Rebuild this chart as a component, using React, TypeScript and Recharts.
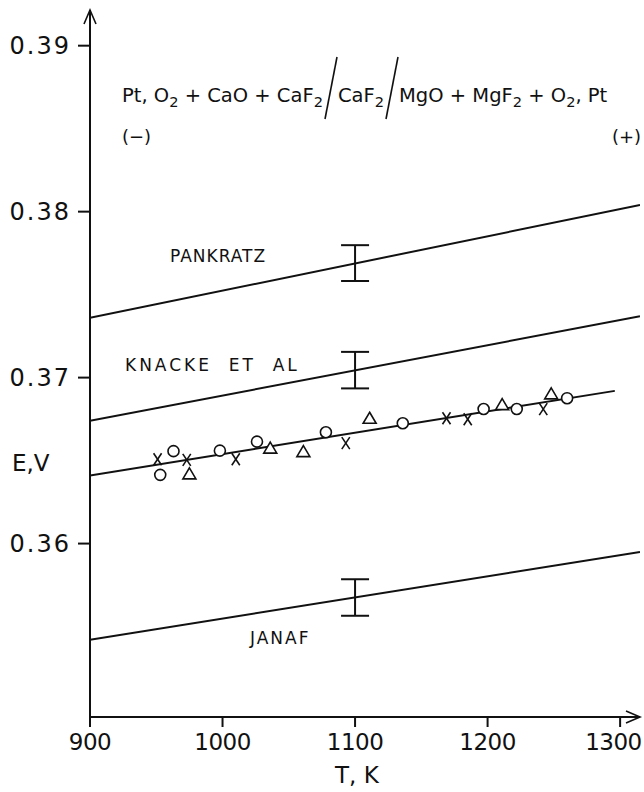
import React from 'react';
import {
  ComposedChart,
  Line,
  Scatter,
  ErrorBar,
  XAxis,
  YAxis,
  ReferenceDot,
} from 'recharts';

// axis ticks
const xTicks = [900, 1000, 1100, 1200, 1300];
const yTicks = [0.36, 0.37, 0.38, 0.39];

// literature lines (E in V vs T in K)
const pankratz = [
  { T: 900, E: 0.3736 },
  { T: 1315, E: 0.3804 },
];
const knacke = [
  { T: 900, E: 0.3674 },
  { T: 1315, E: 0.3737 },
];
const janaf = [
  { T: 900, E: 0.3542 },
  { T: 1315, E: 0.3595 },
];
// least squares line through measured points
const fit = [
  { T: 900, E: 0.3641 },
  { T: 1296, E: 0.3692 },
];

// uncertainty bars at 1100 K
const errBars = [
  { T: 1100, E: 0.3769, err: 0.00108 },
  { T: 1100, E: 0.37045, err: 0.0011 },
  { T: 1100, E: 0.35675, err: 0.0011 },
];

// measured points, three runs
const crosses = [
  { T: 951, E: 0.36508 },
  { T: 973, E: 0.36504 },
  { T: 1010, E: 0.36508 },
  { T: 1093, E: 0.36605 },
  { T: 1169, E: 0.36755 },
  { T: 1185, E: 0.36749 },
  { T: 1242, E: 0.3681 },
];
const circles = [
  { T: 953, E: 0.36414 },
  { T: 963, E: 0.36557 },
  { T: 998, E: 0.3656 },
  { T: 1026, E: 0.36614 },
  { T: 1078, E: 0.36671 },
  { T: 1136, E: 0.36725 },
  { T: 1197, E: 0.36811 },
  { T: 1222, E: 0.36811 },
  { T: 1260, E: 0.36876 },
];
const triangles = [
  { T: 975, E: 0.3642 },
  { T: 1036, E: 0.36575 },
  { T: 1061, E: 0.36554 },
  { T: 1111, E: 0.36755 },
  { T: 1211, E: 0.36837 },
  { T: 1248, E: 0.36902 },
];

const FONT = '"DejaVu Sans", sans-serif';
const INK = '#111';
const W = 644;

const CrossMark = (p: any) => (
  <g stroke={INK} strokeWidth={1.6}>
    <line x1={p.cx - 4} y1={p.cy - 6} x2={p.cx + 4} y2={p.cy + 6} />
    <line x1={p.cx + 4} y1={p.cy - 6} x2={p.cx - 4} y2={p.cy + 6} />
  </g>
);
const CircleMark = (p: any) => (
  <circle cx={p.cx} cy={p.cy} r={5.5} fill="#fff" stroke={INK} strokeWidth={1.6} />
);
const TriangleMark = (p: any) => (
  <path
    d={`M${p.cx},${p.cy - 6} L${p.cx + 6.5},${p.cy + 5} L${p.cx - 6.5},${p.cy + 5} Z`}
    fill="#fff"
    stroke={INK}
    strokeWidth={1.6}
  />
);
const UpArrow = (p: any) => (
  <path
    d={`M${p.cx - 6},${p.cy + 14} L${p.cx},${p.cy} L${p.cx + 6},${p.cy + 14}`}
    fill="none"
    stroke={INK}
    strokeWidth={1.6}
  />
);
const RightArrow = (p: any) => (
  <path
    d={`M${p.cx - 14},${p.cy - 6} L${p.cx},${p.cy} L${p.cx - 14},${p.cy + 6}`}
    fill="none"
    stroke={INK}
    strokeWidth={1.6}
  />
);

// x tick label, kept inside the picture's right edge
const XTick = (p: any) => {
  const label = String(p.payload.value);
  const half = (label.length * 0.6 * 23) / 2;
  const shift = Math.min(0, W - 3 - (p.x + half));
  return (
    <text
      x={p.x + shift}
      y={p.y}
      dy="0.71em"
      textAnchor="middle"
      fill={INK}
      fontSize={23}
      fontFamily={FONT}
      letterSpacing={-0.5}
    >
      {label}
    </text>
  );
};

const txt: React.CSSProperties = {
  position: 'absolute',
  fontFamily: FONT,
  color: INK,
  whiteSpace: 'nowrap',
  lineHeight: 1,
};
const sub: React.CSSProperties = { fontSize: '0.75em', lineHeight: 0, verticalAlign: '-0.35em' };

const Slash = () => (
  <span style={{ display: 'inline-block', width: 15, height: 0, position: 'relative' }}>
    <svg width={15} height={64} style={{ position: 'absolute', left: 0, top: -46, overflow: 'visible' }}>
      <line x1={14} y1={1} x2={2} y2={63} stroke={INK} strokeWidth={1.6} />
    </svg>
  </span>
);

export default function App() {
  return (
    <div style={{ position: 'absolute', left: 0, top: 0, width: W, height: 792, background: '#fff' }}>
      <ComposedChart
        width={W}
        height={792}
        margin={{ top: 10, right: 4, bottom: 30, left: 20 }}
      >
        <XAxis
          dataKey="T"
          type="number"
          domain={[900, 1315]}
          allowDataOverflow
          ticks={xTicks}
          height={45}
          tickSize={10}
          tickMargin={7}
          stroke={INK}
          strokeWidth={2}
          tick={XTick}
        />
        <YAxis
          type="number"
          domain={[0.34955, 0.39215]}
          allowDataOverflow
          ticks={yTicks}
          width={70}
          tickSize={12}
          tickMargin={7}
          tickFormatter={(v: number) => v.toFixed(2)}
          stroke={INK}
          strokeWidth={2}
          tick={{ fill: INK, fontSize: 24, fontFamily: FONT, letterSpacing: 2 }}
        />
        <Line data={pankratz} dataKey="E" stroke={INK} strokeWidth={2} dot={false} isAnimationActive={false} />
        <Line data={knacke} dataKey="E" stroke={INK} strokeWidth={2} dot={false} isAnimationActive={false} />
        <Line data={janaf} dataKey="E" stroke={INK} strokeWidth={2} dot={false} isAnimationActive={false} />
        <Line data={fit} dataKey="E" stroke={INK} strokeWidth={2} dot={false} isAnimationActive={false} />
        <Scatter data={errBars} dataKey="E" shape={() => <g />} isAnimationActive={false}>
          <ErrorBar dataKey="err" direction="y" width={14} stroke={INK} strokeWidth={2} isAnimationActive={false} />
        </Scatter>
        <Scatter data={crosses} dataKey="E" shape={CrossMark} isAnimationActive={false} />
        <Scatter data={circles} dataKey="E" shape={CircleMark} isAnimationActive={false} />
        <Scatter data={triangles} dataKey="E" shape={TriangleMark} isAnimationActive={false} />
        <ReferenceDot x={900} y={0.39215} shape={UpArrow} />
        <ReferenceDot x={1315} y={0.34955} shape={RightArrow} />
      </ComposedChart>

      <div style={{ ...txt, left: 122, top: 86, fontSize: 19.5 }}>
        Pt, O<sub style={sub}>2</sub> + CaO + CaF<sub style={sub}>2</sub>
        <Slash />CaF<sub style={sub}>2</sub>
        <Slash />MgO + MgF<sub style={sub}>2</sub> + O<sub style={sub}>2</sub>, Pt
      </div>
      <div style={{ ...txt, left: 122, top: 128, fontSize: 18 }}>(−)</div>
      <div style={{ ...txt, left: 612, top: 128, fontSize: 18 }}>(+)</div>

      <div style={{ ...txt, left: 170, top: 248, fontSize: 17, letterSpacing: 1 }}>PANKRATZ</div>
      <div style={{ ...txt, left: 125, top: 357, fontSize: 17, letterSpacing: 3 }}>KNACKE&nbsp; ET&nbsp; AL</div>
      <div style={{ ...txt, left: 250, top: 630, fontSize: 17, letterSpacing: 2 }}>JANAF</div>

      <div style={{ ...txt, left: 12, top: 452, fontSize: 23 }}>E,V</div>
      <div style={{ ...txt, left: 335, top: 764, fontSize: 23 }}>T, K</div>
    </div>
  );
}
